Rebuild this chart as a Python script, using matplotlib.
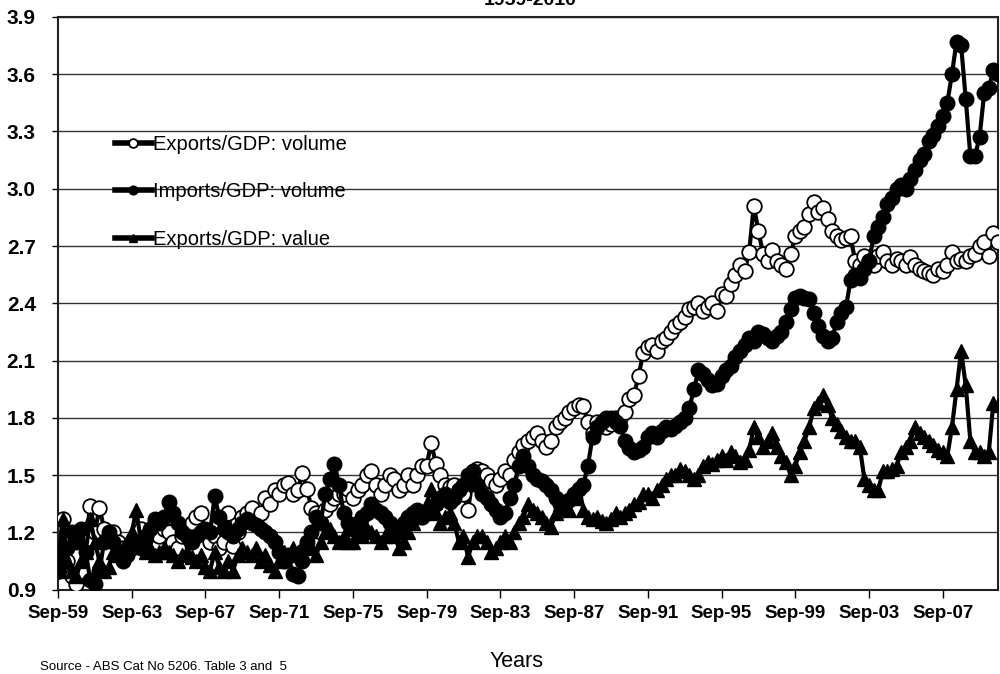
import numpy as np
import matplotlib
matplotlib.use("Agg")
import matplotlib.pyplot as plt

plt.rcParams['font.family'] = ['Liberation Sans', 'DejaVu Sans']

# quarterly ratios, Sep-59 = 1.0
exports_volume = [
    1.00, 1.27, 1.05, 0.97, 0.93, 1.00, 1.15, 1.34, 1.20, 1.33, 1.22, 1.18, 1.20, 1.15, 1.12, 1.10,
    1.15, 1.18, 1.22, 1.17, 1.20, 1.25, 1.18, 1.22, 1.20, 1.15, 1.12, 1.18, 1.22, 1.25, 1.28, 1.30,
    1.20, 1.15, 1.18, 1.12, 1.15, 1.30, 1.13, 1.20, 1.28, 1.30, 1.33, 1.25, 1.30, 1.38, 1.35, 1.42,
    1.40, 1.45, 1.46, 1.40, 1.42, 1.51, 1.43, 1.33, 1.30, 1.20, 1.32, 1.35, 1.38, 1.40, 1.40, 1.43,
    1.38, 1.42, 1.45, 1.50, 1.52, 1.45, 1.40, 1.45, 1.50, 1.48, 1.42, 1.45, 1.50, 1.45, 1.50, 1.55,
    1.55, 1.67, 1.56, 1.50, 1.45, 1.44, 1.45, 1.42, 1.40, 1.32, 1.48, 1.53, 1.52, 1.50, 1.47, 1.45,
    1.48, 1.52, 1.50, 1.58, 1.62, 1.66, 1.68, 1.70, 1.72, 1.68, 1.65, 1.68, 1.75, 1.78, 1.80, 1.83,
    1.85, 1.87, 1.86, 1.78, 1.72, 1.78, 1.76, 1.75, 1.77, 1.80, 1.80, 1.83, 1.90, 1.92, 2.02, 2.14,
    2.17, 2.18, 2.15, 2.20, 2.22, 2.25, 2.28, 2.30, 2.33, 2.37, 2.38, 2.40, 2.36, 2.38, 2.40, 2.36,
    2.45, 2.44, 2.50, 2.55, 2.60, 2.57, 2.67, 2.91, 2.78, 2.66, 2.62, 2.68, 2.62, 2.60, 2.58, 2.66,
    2.75, 2.78, 2.80, 2.87, 2.93, 2.88, 2.90, 2.84, 2.78, 2.75, 2.73, 2.74, 2.75, 2.62, 2.60, 2.65,
    2.62, 2.60, 2.65, 2.67, 2.62, 2.60, 2.63, 2.62, 2.60, 2.64, 2.60, 2.58, 2.57, 2.56, 2.55, 2.58,
    2.57, 2.60, 2.67, 2.62, 2.63, 2.62, 2.65, 2.66, 2.70, 2.72, 2.65, 2.77, 2.72,
]

imports_volume = [
    1.00, 1.05, 1.12, 1.20, 1.15, 1.22, 1.10, 0.95, 0.93, 1.00, 1.15, 1.20, 1.15, 1.10, 1.05, 1.08,
    1.12, 1.15, 1.12, 1.18, 1.22, 1.27, 1.25, 1.28, 1.36, 1.30, 1.25, 1.20, 1.18, 1.15, 1.18, 1.20,
    1.22, 1.20, 1.39, 1.28, 1.22, 1.20, 1.18, 1.22, 1.25, 1.27, 1.25, 1.24, 1.22, 1.20, 1.18, 1.15,
    1.10, 1.05, 1.08, 0.98, 0.97, 1.05, 1.15, 1.20, 1.28, 1.25, 1.40, 1.48, 1.56, 1.45, 1.30, 1.25,
    1.22, 1.25, 1.28, 1.30, 1.35, 1.32, 1.30, 1.28, 1.25, 1.22, 1.20, 1.25, 1.28, 1.30, 1.32, 1.28,
    1.30, 1.33, 1.35, 1.38, 1.40, 1.36, 1.38, 1.42, 1.45, 1.50, 1.52, 1.45, 1.40, 1.38, 1.35, 1.32,
    1.28, 1.30, 1.38, 1.45, 1.55, 1.60, 1.55, 1.50, 1.48, 1.47, 1.45, 1.42, 1.38, 1.35, 1.36, 1.37,
    1.40, 1.43, 1.45, 1.55, 1.70, 1.75, 1.78, 1.80, 1.80, 1.78, 1.76, 1.68, 1.64, 1.62, 1.63, 1.65,
    1.70, 1.72, 1.70, 1.73, 1.75, 1.74, 1.76, 1.78, 1.80, 1.85, 1.95, 2.05, 2.03, 2.00, 1.97, 1.98,
    2.02, 2.05, 2.07, 2.12, 2.15, 2.18, 2.22, 2.20, 2.25, 2.24, 2.22, 2.20, 2.23, 2.25, 2.30, 2.37,
    2.43, 2.44, 2.43, 2.42, 2.35, 2.28, 2.23, 2.20, 2.22, 2.30, 2.35, 2.38, 2.52, 2.55, 2.53, 2.58,
    2.62, 2.75, 2.80, 2.85, 2.92, 2.95, 3.00, 3.02, 3.00, 3.05, 3.10, 3.15, 3.18, 3.25, 3.28, 3.33,
    3.38, 3.45, 3.60, 3.77, 3.75, 3.47, 3.17, 3.17, 3.27, 3.50, 3.53, 3.62, 3.60,
]

exports_value = [
    1.00, 1.27, 1.05, 1.00, 0.97, 1.05, 1.10, 1.27, 1.15, 1.05, 1.00, 1.02, 1.10, 1.08, 1.12, 1.15,
    1.20, 1.32, 1.15, 1.10, 1.12, 1.08, 1.10, 1.12, 1.10, 1.08, 1.05, 1.08, 1.10, 1.07, 1.05, 1.08,
    1.02, 1.00, 1.10, 1.02, 1.00, 1.05, 1.00, 1.08, 1.12, 1.10, 1.08, 1.12, 1.05, 1.08, 1.03, 1.00,
    1.05, 1.10, 1.08, 1.12, 1.10, 1.13, 1.15, 1.12, 1.08, 1.15, 1.20, 1.22, 1.18, 1.15, 1.18, 1.15,
    1.15, 1.20, 1.18, 1.22, 1.20, 1.18, 1.15, 1.18, 1.20, 1.18, 1.12, 1.15, 1.20, 1.25, 1.28, 1.30,
    1.35, 1.43, 1.30, 1.25, 1.28, 1.30, 1.25, 1.15, 1.18, 1.07, 1.15, 1.18, 1.18, 1.15, 1.10, 1.12,
    1.15, 1.18, 1.15, 1.20, 1.25, 1.28, 1.35, 1.32, 1.30, 1.28, 1.25, 1.23, 1.30, 1.35, 1.33, 1.32,
    1.38, 1.45, 1.32, 1.28, 1.27, 1.28, 1.26, 1.25, 1.27, 1.30, 1.28, 1.30, 1.32, 1.35, 1.36, 1.40,
    1.40, 1.38, 1.42, 1.45, 1.48, 1.50, 1.50, 1.53, 1.52, 1.50, 1.48, 1.50, 1.55, 1.57, 1.56, 1.58,
    1.60, 1.58, 1.62, 1.60, 1.57, 1.58, 1.63, 1.75, 1.70, 1.65, 1.68, 1.72, 1.65, 1.60, 1.57, 1.50,
    1.55, 1.62, 1.68, 1.75, 1.85, 1.88, 1.92, 1.87, 1.80, 1.77, 1.73, 1.70, 1.68, 1.68, 1.65, 1.48,
    1.45, 1.42, 1.42, 1.52, 1.52, 1.53, 1.55, 1.62, 1.65, 1.68, 1.75, 1.72, 1.70, 1.68, 1.66, 1.63,
    1.62, 1.60, 1.75, 1.95, 2.15, 1.97, 1.68, 1.62, 1.62, 1.60, 1.62, 1.88, 1.87,
]

tick_labels = ["Sep-59", "Sep-63", "Sep-67", "Sep-71", "Sep-75", "Sep-79", "Sep-83",
               "Sep-87", "Sep-91", "Sep-95", "Sep-99", "Sep-03", "Sep-07"]
y_ticks = [0.9, 1.2, 1.5, 1.8, 2.1, 2.4, 2.7, 3.0, 3.3, 3.6, 3.9]

quarters = np.arange(len(exports_volume))

fig = plt.figure(figsize=(10, 6.74), dpi=100)
ax = fig.add_axes([0.058, 0.125, 0.940, 0.850])

ax.plot(quarters, exports_volume, color='black', lw=3, marker='o', ms=10.5,
        mfc='white', mec='black', mew=1.3, label="Exports/GDP: volume", zorder=3)
ax.plot(quarters, imports_volume, color='black', lw=3, marker='o', ms=10.5,
        mfc='black', mec='black', label="Imports/GDP: volume", zorder=4)
ax.plot(quarters, exports_value, color='black', lw=3, marker='^', ms=10.5,
        mfc='black', mec='black', label="Exports/GDP: value", zorder=5)

ax.set_xlim(0, len(quarters) - 1)
ax.set_ylim(0.9, 3.9)
ax.set_yticks(y_ticks)
ax.set_yticklabels([f"{v:.1f}" for v in y_ticks], fontsize=15, fontweight='bold')
ax.set_xticks(np.arange(0, len(quarters), 16))
ax.set_xticklabels(tick_labels, fontsize=13.5, fontweight='bold')
ax.tick_params(axis='x', direction='out', length=6, width=1, pad=5)
ax.tick_params(axis='y', direction='out', length=4, width=1, pad=12)
ax.yaxis.grid(True, color='#333333', lw=1)
ax.set_axisbelow(True)
for s in ax.spines.values():
    s.set_color('#222222')
    s.set_linewidth(1.5)

leg = ax.legend(loc='upper left', bbox_to_anchor=(0.041, 0.826), frameon=False,
                prop={'size': 14.5}, handlelength=1.85, markerscale=0.6,
                handletextpad=0.05, labelspacing=1.42, numpoints=1)
for h in leg.get_lines():
    h.set_linewidth(4)

fig.text(0.53, 0.999, "1959-2010", ha='center', va='center', fontsize=14, fontweight='bold')
fig.text(0.517, 0.003, "Years", ha='center', va='bottom', fontsize=15.5)
fig.text(0.04, 0.002, "Source - ABS Cat No 5206. Table 3 and  5", ha='left', va='bottom', fontsize=9.5)

fig.savefig("out.png", dpi=100)
